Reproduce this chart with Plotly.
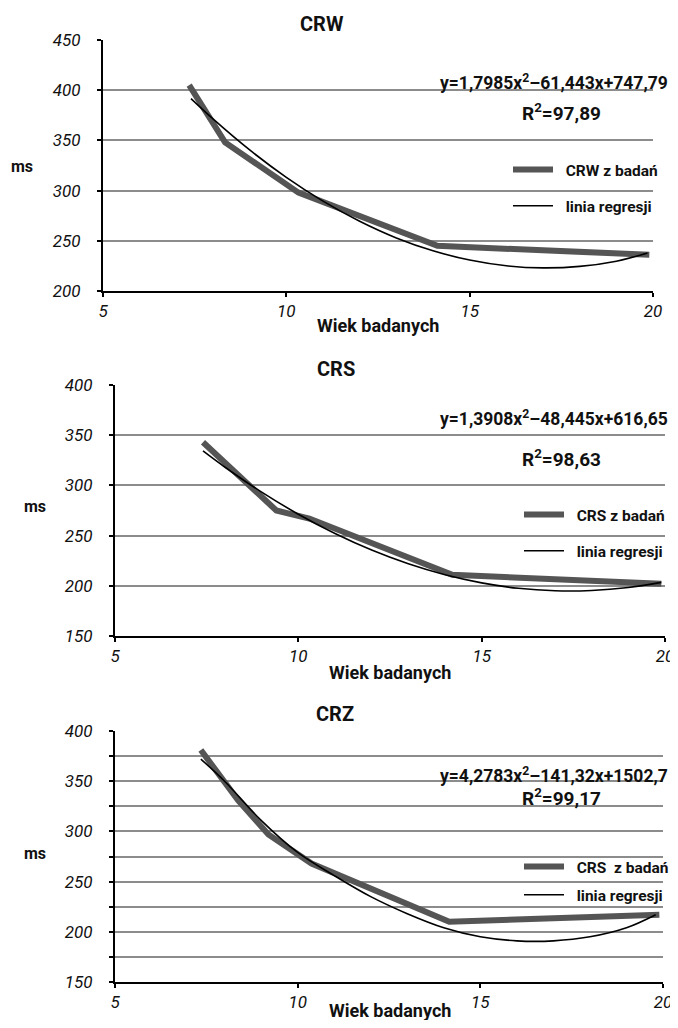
import plotly.graph_objects as go

# the page body adds an 8 px margin, so the figure is drawn from (8, 8)
OFF = 8
W, H = 670, 1012
FONT = "Roboto, Lato, Liberation Sans, sans-serif"

# ---------------- data ----------------
panel_titles = ["CRW", "CRS", "CRZ"]
data_names = ["CRW z badań", "CRS z badań", "CRS  z badań"]
reg_name = "linia regresji"

crw_age = [7.35, 8.33, 10.33, 14.12, 19.9]
crw_ms = [405, 348, 298, 245, 236]
crw_reg_age = [7.4, 8, 9, 10, 11, 12, 13, 14, 15, 16, 17, 18, 19, 19.85]
crw_reg_ms = [391.6, 371.4, 340.5, 313.2, 289.5, 269.5, 252.9, 240.1, 230.8, 225.1, 223.0, 224.5, 229.7, 237.8]

crs_age = [7.4, 9.4, 10.3, 14.2, 19.9]
crs_ms = [343, 275, 267, 211, 202]
crs_reg_age = [7.4, 8, 9, 10, 11, 12, 13, 14, 15, 16, 17, 18, 19, 19.9]
crs_reg_ms = [334.3, 318.1, 293.3, 271.3, 252.1, 235.6, 221.9, 211.0, 202.9, 197.5, 195.0, 195.3, 198.3, 203.4]

crz_age = [7.35, 8.37, 9.2, 10.38, 14.15, 19.9]
crz_ms = [381, 331, 297, 268, 210, 217]
crz_reg_age = [7.35, 8, 9, 10, 11, 12, 13, 14, 15, 16, 17, 18, 19, 19.8]
crz_reg_ms = [372, 350, 311, 279, 256, 235, 218, 204, 195, 191, 191, 195, 204, 217]

equations = ["y=1,7985x<sup>2</sup>–61,443x+747,79",
             "y=1,3908x<sup>2</sup>–48,445x+616,65",
             "y=4,2783x<sup>2</sup>–141,32x+1502,7"]
r2_texts = ["R<sup>2</sup>=97,89", "R<sup>2</sup>=98,63", "R<sup>2</sup>=99,17"]

y_ranges = [[200, 450], [150, 400], [150, 400]]
x_range = [5, 20]
x_ticks = [5, 10, 15, 20]

# ---------------- layout geometry (screen pixels) ----------------
px_x = [(103, 653), (115, 665), (115, 663)]
px_y = [(40, 291), (385, 636), (731, 982)]
title_pos = [(322, 24), (336, 369), (335, 714)]
ms_pos = [(22, 166), (35, 506), (35, 853)]
wiek_pos = [(378, 326), (390, 672), (390, 1010)]
eq_pos = [(670, 82), (670, 418), (670, 775)]
r2_pos = [(520, 113), (520, 458), (520, 797)]
legend_pos = [(508, 153), (519, 498), (519, 850)]
legend_gap = [13, 13, 5]

ages = [crw_age, crs_age, crz_age]
vals = [crw_ms, crs_ms, crz_ms]
reg_ages = [crw_reg_age, crs_reg_age, crz_reg_age]
reg_vals = [crw_reg_ms, crs_reg_ms, crz_reg_ms]

fig = go.Figure()

def fx(p):
    return (p - OFF) / W

def fy(p):
    return 1 - (p - OFF) / H

NB = "\u00a0\u00a0"
annotations = []
for i in range(3):
    sfx = "" if i == 0 else str(i + 1)
    legend_id = "legend" if i == 0 else "legend" + str(i + 1)
    fig.add_trace(go.Scatter(
        x=ages[i], y=vals[i], mode="lines", name=NB + data_names[i],
        line=dict(color="#555555", width=6),
        xaxis="x" + sfx, yaxis="y" + sfx, legend=legend_id,
        legendgroup="d%d" % i))
    fig.add_trace(go.Scatter(
        x=reg_ages[i], y=reg_vals[i], mode="lines", name=NB + reg_name,
        line=dict(color="#000000", width=1.6, shape="spline", smoothing=1.0),
        xaxis="x" + sfx, yaxis="y" + sfx, legend=legend_id,
        legendgroup="r%d" % i))

    tfont = dict(family=FONT, size=17, color="#111", style="italic")
    xa = dict(domain=[fx(px_x[i][0]), fx(px_x[i][1])], range=x_range,
              anchor="y" + sfx, tickvals=x_ticks, showgrid=False,
              showline=True, linecolor="#000", linewidth=2,
              ticks="outside", ticklen=4, tickcolor="#000", tickwidth=1.5,
              tickfont=tfont, ticklabelstandoff=0, zeroline=False,
              fixedrange=True, automargin=False)
    ya = dict(domain=[fy(px_y[i][1]), fy(px_y[i][0])], range=y_ranges[i],
              anchor="x" + sfx, dtick=50, tick0=0, showgrid=True,
              gridcolor="#8c8c8c", gridwidth=1.5,
              showline=True, linecolor="#000", linewidth=2,
              ticks="outside", ticklen=4, tickcolor="#000", tickwidth=1.5,
              tickfont=tfont, ticklabelstandoff=13, zeroline=False,
              fixedrange=True, automargin=False)
    if i == 2:
        ya["minor"] = dict(dtick=25, showgrid=True, gridcolor="#8c8c8c", gridwidth=1.5,
                           ticks="outside", ticklen=4, tickcolor="#000", tickwidth=1.5)
    fig.update_layout(**{"xaxis" + sfx: xa, "yaxis" + sfx: ya})

    lx, ly = legend_pos[i]
    fig.update_layout(**{legend_id: dict(
        x=fx(lx), y=fy(ly), xanchor="left", yanchor="top",
        bgcolor="rgba(0,0,0,0)", borderwidth=0,
        font=dict(family=FONT, size=15.5, color="#111", weight="bold"),
        itemwidth=40, tracegroupgap=legend_gap[i], traceorder="grouped")})

    def ann(text, pos, size, xanchor="center"):
        annotations.append(dict(
            text=text, x=fx(pos[0]), y=fy(pos[1]), xref="paper", yref="paper",
            xanchor=xanchor, yanchor="middle", showarrow=False,
            font=dict(family=FONT, size=size, color="#111", weight="bold")))

    ann(panel_titles[i], title_pos[i], 20)
    ann("ms", ms_pos[i], 16)
    ann("Wiek badanych", wiek_pos[i], 18)
    ann(equations[i], eq_pos[i], 17.5, "right")
    ann(r2_texts[i], r2_pos[i], 19, "left")

fig.update_layout(
    template="none",
    width=W, height=H, margin=dict(l=0, r=0, t=0, b=0, autoexpand=False),
    paper_bgcolor="white", plot_bgcolor="white",
    font=dict(family=FONT, color="#111"),
    annotations=annotations, showlegend=True,
)

fig.write_html("out.html")
